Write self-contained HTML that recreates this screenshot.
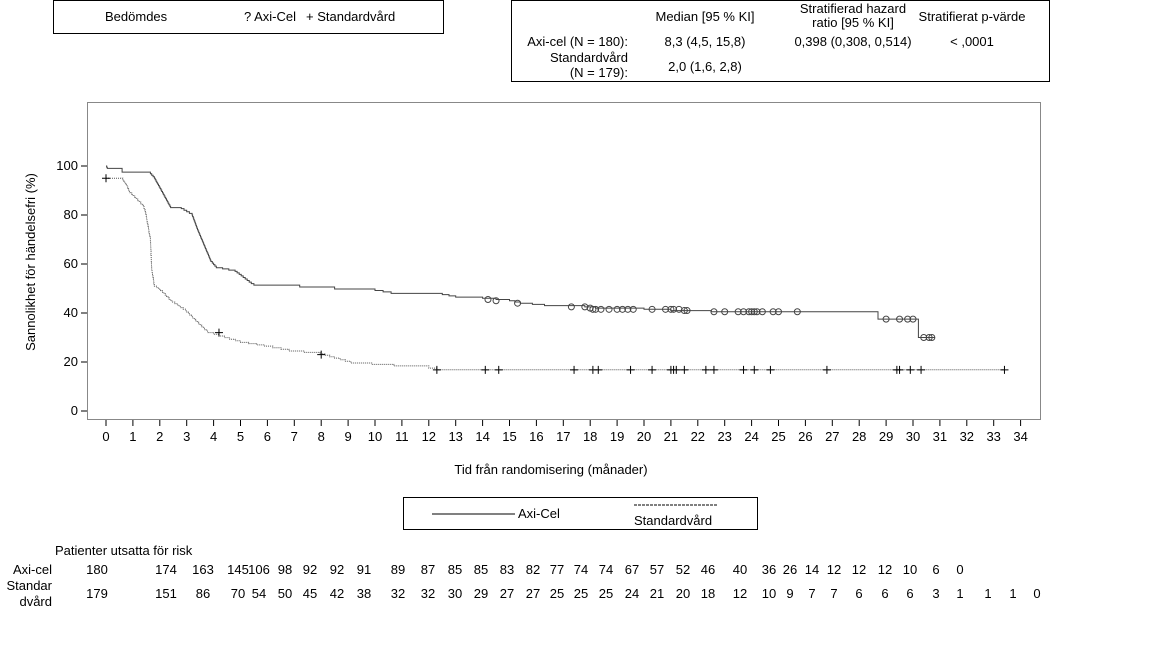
<!DOCTYPE html>
<html><head><meta charset="utf-8"><style>
body{margin:0;background:#fff;width:1152px;height:648px;overflow:hidden}
svg{display:block;font-family:"Liberation Sans",sans-serif;font-size:13px}
</style></head><body>
<svg width="1152" height="648" viewBox="0 0 1152 648" id="s">
<rect x="53.5" y="0.5" width="390" height="33" fill="none" stroke="#000"/>
<text x="105" y="21">Bedömdes</text><text x="244" y="21">? Axi-Cel</text><text x="306" y="21">+ Standardvård</text>
<rect x="511.5" y="0.5" width="538" height="81" fill="none" stroke="#000"/>
<g text-anchor="middle">
<text x="705" y="21">Median [95 % KI]</text>
<text x="853" y="13">Stratifierad hazard</text><text x="853" y="27">ratio [95 % KI]</text>
<text x="972" y="21">Stratifierat p-värde</text>
<text x="705" y="46">8,3 (4,5, 15,8)</text><text x="853" y="46">0,398 (0,308, 0,514)</text><text x="972" y="46">&lt; ,0001</text>
<text x="705" y="71">2,0 (1,6, 2,8)</text>
</g>
<g text-anchor="end"><text x="628" y="46">Axi-cel (N = 180):</text><text x="628" y="62">Standardvård</text><text x="628" y="77">(N = 179):</text></g>
<rect x="87.5" y="102.5" width="953" height="317" fill="none" stroke="#888"/>
<g id="ax" stroke="#000"></g>
<text transform="translate(35,262) rotate(-90)" text-anchor="middle">Sannolikhet för händelsefri (%)</text>
<text x="551" y="474" text-anchor="middle">Tid från randomisering (månader)</text>
<rect x="403.5" y="497.5" width="354" height="32" fill="none" stroke="#000"/>
<line x1="432" y1="514" x2="515" y2="514" stroke="#000"/>
<text x="518" y="518">Axi-Cel</text>
<line x1="634" y1="505" x2="717" y2="505" stroke="#000" stroke-dasharray="3,1"/>
<text x="634" y="525">Standardvård</text>
<text x="55" y="555">Patienter utsatta för risk</text>
<g text-anchor="end"><text x="52" y="574">Axi-cel</text><text x="52" y="590">Standar</text><text x="52" y="606">dvård</text></g>
<g id="rt" text-anchor="middle"></g>
<g id="cv" fill="none"></g>
</svg>
<script>
var NS="http://www.w3.org/2000/svg",X=t=>106+26.9*t,Y=v=>411-2.45*v;
function el(p,n,a,tx){var e=document.createElementNS(NS,n);for(var k in a)e.setAttribute(k,a[k]);if(tx!=null)e.textContent=tx;document.getElementById(p).appendChild(e);return e}
for(var i=0;i<=34;i++){el("ax","line",{x1:X(i),x2:X(i),y1:420,y2:426});el("s","text",{x:X(i),y:441,"text-anchor":"middle"},i)}
for(var v=0;v<=100;v+=20){el("ax","line",{x1:81,x2:87,y1:Y(v),y2:Y(v)});el("s","text",{x:78,y:Y(v)+4,"text-anchor":"end"},v)}
var ax=[[0,100],[0.05,99],[0.6,99],[0.6,97.5],[1.6,97.5],[1.8,95],[2.4,83],[2.8,82.6],[3.2,80],[3.4,74],[3.9,61],[4.1,58.5],[4.8,57],[5.4,52],[5.5,51.4],[7.2,51.4],[7.2,50.6],[8.5,50.6],[8.5,49.8],[9.7,49.8],[10.6,48],[12.5,47.5],[13,46.5],[14,46],[15,45],[15.4,44],[16.3,43],[17.8,42.5],[18.2,42],[20,41.5],[21,41],[22.5,40.5],[28.7,40.5],[28.7,37.5],[30.2,37.5],[30.2,30],[30.8,30]];
var sd=[[0,95],[0.6,95],[0.9,89],[1.35,84],[1.45,82],[1.65,70],[1.7,57.5],[1.8,51],[2.1,48.5],[2.4,45],[2.95,41],[3.5,35],[3.8,32],[4.2,30.6],[5,28],[5.9,26.5],[6.8,24.5],[7.95,23.3],[8.5,21.6],[9.1,19.6],[10.7,18.4],[12,17.5],[12.3,16.8],[33.4,16.8]];
function path(d){var s="M"+X(d[0][0])+","+Y(d[0][1]),ct=d[0][0],cv=d[0][1];
for(var i=1;i<d.length;i++){var t1=d[i][0],v1=d[i][1],dt=t1-ct,dv=v1-cv;
 var n=Math.max(1,Math.round(Math.abs(dv)/0.6));if(dv==0)n=1;
 for(var k=1;k<=n;k++){var t=ct+dt*k/n,v=cv+dv*k/n;s+=" H"+X(t).toFixed(1)+" V"+Y(v).toFixed(1)}
 ct=t1;cv=v1}return s}
el("cv","path",{d:path(ax),stroke:"#444","stroke-width":1});
el("cv","path",{d:path(sd),stroke:"#555","stroke-width":1,"stroke-dasharray":"1,1"});
var ca=[[14.2,45.5],[14.5,45],[15.3,44],[17.3,42.5],[17.8,42.5],[18,42],[18.1,41.5],[18.2,41.5],[18.4,41.5],[18.7,41.5],[19,41.5],[19.2,41.5],[19.4,41.5],[19.6,41.5],[20.3,41.5],[20.8,41.5],[21,41.5],[21.1,41.5],[21.3,41.5],[21.5,41],[21.6,41],[22.6,40.5],[23,40.5],[23.5,40.5],[23.7,40.5],[23.9,40.5],[24,40.5],[24.1,40.5],[24.2,40.5],[24.4,40.5],[24.8,40.5],[25,40.5],[25.7,40.5],[29,37.5],[29.5,37.5],[29.8,37.5],[30,37.5],[30.4,30],[30.6,30],[30.7,30]];
ca.forEach(p=>el("cv","circle",{cx:X(p[0]),cy:Y(p[1]),r:3,stroke:"#444"}));
var cs=[[0,95],[4.2,32],[8,23],[12.3,16.8],[14.1,16.8],[14.6,16.8],[17.4,16.8],[18.1,16.8],[18.3,16.8],[19.5,16.8],[20.3,16.8],[21,16.8],[21.1,16.8],[21.2,16.8],[21.5,16.8],[22.3,16.8],[22.6,16.8],[23.7,16.8],[24.1,16.8],[24.7,16.8],[26.8,16.8],[29.4,16.8],[29.5,16.8],[29.9,16.8],[30.3,16.8],[33.4,16.8]];
cs.forEach(p=>{var x=X(p[0]),y=Y(p[1]);el("cv","path",{d:"M"+(x-4)+","+y+"H"+(x+4)+"M"+x+","+(y-4)+"V"+(y+4),stroke:"#000"})});
var px=[97,166,203,238,259,285,310,337,364,398,428,455,481,507,533,557,581,606,632,657,683,708,740,769,790,812,834,859,885,910,936,960,988,1013,1037];
var a=[180,174,163,145,106,98,92,92,91,89,87,85,85,83,82,77,74,74,67,57,52,46,40,36,26,14,12,12,12,10,6,0];
var b=[179,151,86,70,54,50,45,42,38,32,32,30,29,27,27,25,25,25,24,21,20,18,12,10,9,7,7,6,6,6,3,1,1,1,0];
a.forEach((v,i)=>el("rt","text",{x:px[i],y:574},v));
b.forEach((v,i)=>el("rt","text",{x:px[i],y:598},v));
</script>
</body></html>
